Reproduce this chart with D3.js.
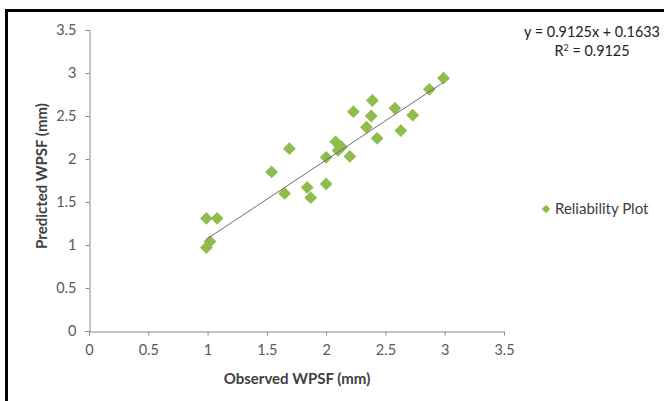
<!DOCTYPE html>
<html><head><meta charset="utf-8">
<script src="https://cdn.jsdelivr.net/npm/d3@7"></script>
<style>body{margin:0;background:#fff;} text{font-family:Lato,"Open Sans",sans-serif;}</style>
</head><body>
<svg id="c" width="664" height="401"></svg>
<script>
const observed  = [2.99,2.87,2.39,2.23,2.58,2.38,2.73,2.34,2.63,2.43,2.08,2.13,2.10,2.20,2.00,1.69,1.54,2.00,1.84,1.87,1.65,0.99,1.08,1.02,0.99];
const predicted = [2.94,2.81,2.68,2.55,2.59,2.50,2.51,2.37,2.33,2.24,2.20,2.14,2.10,2.03,2.02,2.12,1.85,1.71,1.67,1.55,1.60,1.31,1.31,1.04,0.97];
const xTicks = [0,0.5,1,1.5,2,2.5,3,3.5];
const yTicks = [0,0.5,1,1.5,2,2.5,3,3.5];
const slope = 0.9125, intercept = 0.1633;
const seriesName = "Reliability Plot";
const eqText = "y = 0.9125x + 0.1633";
const r2Label = "0.9125";

const svg = d3.select("#c");
const green = "#8FBC4C";
// frame (top & left)
svg.append("line").attr("x1",6.5).attr("x2",664).attr("y1",10.5).attr("y2",10.5).attr("stroke","#000").attr("stroke-width",3);
svg.append("line").attr("x1",6.5).attr("x2",6.5).attr("y1",9).attr("y2",401).attr("stroke","#000").attr("stroke-width",3);

const x = d3.scaleLinear().domain([0,3.5]).range([89,504]);
const y = d3.scaleLinear().domain([0,3.5]).range([331,30]);

const xAxis = svg.append("g").attr("transform","translate(0,331.5)")
  .call(d3.axisBottom(x).tickValues(xTicks).tickFormat(d3.format("~g")).tickSizeOuter(0).tickSize(4).tickPadding(9));
const yAxis = svg.append("g").attr("transform","translate(89.5,0)")
  .call(d3.axisLeft(y).tickValues(yTicks).tickFormat(d3.format("~g")).tickSizeOuter(0).tickSize(4).tickPadding(9));
[xAxis,yAxis].forEach(g=>{
  g.select(".domain").attr("stroke","#8a8a8a");
  g.selectAll(".tick line").attr("stroke","#8a8a8a");
  g.selectAll("text").attr("fill","#595959").style("font-size","14.5px").style("font-family","Lato, sans-serif");
});

const xmin = d3.min(observed), xmax = d3.max(observed);
// points: squares rotated 45deg
const diamond = d3.symbol().type(d3.symbolSquare).size(82);
svg.append("g").selectAll("path").data(observed).join("path")
  .attr("d",diamond)
  .attr("transform",(d,i)=>`translate(${x(d)},${y(predicted[i])}) rotate(45)`)
  .attr("fill",green);
// trendline
svg.append("line")
  .attr("x1",x(xmin)).attr("y1",y(slope*xmin+intercept))
  .attr("x2",x(xmax)).attr("y2",y(slope*xmax+intercept))
  .attr("stroke","#6e6e6e").attr("stroke-width",1);

// axis titles
svg.append("text").attr("x",297).attr("y",384).attr("text-anchor","middle")
  .attr("font-weight","bold").attr("font-size",15).attr("fill","#404040").text("Observed WPSF (mm)");
svg.append("text").attr("transform","translate(47,176) rotate(-90)").attr("text-anchor","middle")
  .attr("font-weight","bold").attr("font-size",15).attr("fill","#404040").text("Predicted WPSF (mm)");

// equation
svg.append("text").attr("x",592).attr("y",37).attr("text-anchor","middle").attr("font-size",14.4).attr("fill","#222").text(eqText);
const r2 = svg.append("text").attr("x",592).attr("y",56).attr("text-anchor","middle").attr("font-size",14.4).attr("fill","#222");
r2.append("tspan").text("R");
r2.append("tspan").attr("dy",-5).attr("font-size",9).text("2");
r2.append("tspan").attr("dy",5).text(" = " + r2Label);

// legend
svg.append("path").attr("d",d3.symbol().type(d3.symbolSquare).size(36)).attr("transform","translate(546,209) rotate(45)").attr("fill",green);
svg.append("text").attr("x",555).attr("y",214).attr("font-size",15).attr("fill","#404040").text(seriesName);
</script>
</body></html>
